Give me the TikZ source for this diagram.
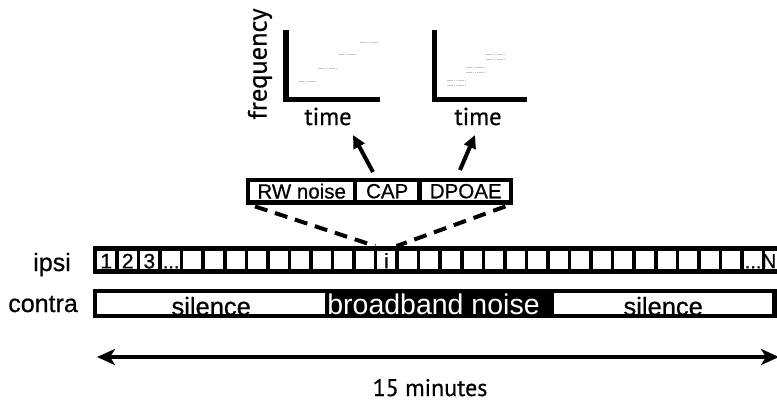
\documentclass[tikz,border=0pt]{standalone}
\usepackage{fontspec}
\setmainfont{Liberation Sans}
\newfontfamily\hv{Liberation Sans}[FakeBold=0.6]
\newfontfamily\myr{PT Sans}[FakeBold=0.5]
\usetikzlibrary{arrows.meta,calc}
\tikzset{
  fs/.style={font=\hv\fontsize{#1}{#1}\selectfont},
  ls/.style={font=\fontsize{#1}{#1}\selectfont},
  mfs/.style={font=\myr\fontsize{#1}{#1}\selectfont},
  cell/.style={fill=white, draw=none, minimum width=18pt, minimum height=18pt, inner sep=0pt, anchor=north west},
  boxc/.style={fill=white, draw=none, minimum height=18pt, inner sep=0pt, anchor=north west, fs=20.5},
  seg/.style={fill=white, draw=none, minimum height=21pt, inner sep=0pt, anchor=north west},
  axis/.style={line width=5.5pt, line join=miter},
  tiny/.style={line width=0.8pt, gray!45, dash pattern=on 1.6pt off 0.6pt},
  uparrow/.style={line width=4pt, -{Triangle[length=13pt,width=12pt]}},
  dashconn/.style={line width=4pt, dash pattern=on 13pt off 8pt},
  span/.style={line width=3.5pt, {Stealth[length=18pt,width=16pt,inset=5pt]}-{Stealth[length=18pt,width=16pt,inset=5pt]}}
}
\begin{document}
\begin{tikzpicture}[x=1pt,y=-1pt]
\useasboundingbox (0,0) rectangle (777,402);
\clip (0,0) rectangle (777,402);
\fill[white] (0,0) rectangle (777,402);

% plots
\draw[axis] (286,30) -- (286,99.5) -- (380,99.5);
\draw[axis] (434.5,30) -- (434.5,99.5) -- (527,99.5);
\draw[tiny] (360,42) -- (378,42);
\draw[tiny] (338,54) -- (357,54);
\draw[tiny] (318,68) -- (337,68);
\draw[tiny] (298,81) -- (317,81);
\draw[tiny] (486,54) -- (505,54);
\draw[tiny] (486,59) -- (505,59);
\draw[tiny] (466,67) -- (485,67);
\draw[tiny] (466,72) -- (485,72);
\draw[tiny] (447,80) -- (465,80);
\draw[tiny] (447,85) -- (465,85);
\node[mfs=26.5, rotate=90, inner sep=0pt] (freq) at (260,64) {frequency};
\node[mfs=24.5, anchor=base, inner sep=0pt] (t1) at (328,125) {time};
\node[mfs=24.5, anchor=base, inner sep=0pt] (t2) at (478,125) {time};

% measurement box
\fill (246,178) rectangle (513,205);
\node[boxc, minimum width=103pt] (rw) at (250,182) {RW noise};
\node[boxc, minimum width=60pt] (cap) at (357,182) {CAP};
\node[boxc, minimum width=87pt] (dp) at (422,182) {DPOAE};

% arrows up
\coordinate (a1) at (373,172);
\coordinate (a1t) at (353,135);
\coordinate (a2) at (460,170);
\coordinate (a2t) at (475,135);
\draw[uparrow] (a1) -- (a1t);
\draw[uparrow] (a2) -- (a2t);

% ipsi strip
\fill (93,246) rectangle (780,274);
\foreach \k in {1,...,32} {
  \node[cell] (c\k) at ({97+(\k-1)*21.55},251) {};
}
\node[fs=21, anchor=base, inner sep=0pt] at ([yshift=1pt]c1.south) {1};
\node[fs=21, anchor=base, inner sep=0pt] at ([yshift=1pt]c2.south) {2};
\node[fs=21, anchor=base, inner sep=0pt] at ([yshift=1pt]c3.south) {3};
\node[fs=20, anchor=base west, inner sep=0pt] at ([xshift=1pt,yshift=1pt]c4.south west) {...};
\node[fs=21, anchor=base, inner sep=0pt] at ([yshift=1pt]c14.south) {i};
\node[fs=20, anchor=base west, inner sep=0pt] at ([xshift=1pt,yshift=1pt]c31.south west) {...};
\node[fs=20, anchor=base east, inner sep=0pt] at (776.5,268) {N};

% dashed connectors
\draw[dashconn] ([shift={(5,6)}]rw.south west) -- ([shift={(-2,-5)}]c14.north west);
\draw[dashconn] ([shift={(-4,6)}]dp.south east) -- ([shift={(1,-5)}]c14.north east);

% contra strip
\fill (93,289) rectangle (780,318);
\node[seg, minimum width=228pt] (s1) at (97,293) {};
\node[seg, minimum width=218pt] (s2) at (554,293) {};
\node[fs=25.5, anchor=base, inner sep=0pt] at ([yshift=-1pt]s1.south) {silence};
\node[fs=25.5, anchor=base, inner sep=0pt] at ([yshift=-1pt]s2.south) {silence};
\node[ls=28.5, anchor=base, inner sep=0pt, text=white] (bb) at (433.5,314) {broadband noise};

% labels
\node[fs=25, anchor=base east, inner sep=0pt] (ipsi) at (71,271) {ipsi};
\node[fs=25, anchor=base east, inner sep=0pt] (contra) at (78,312) {contra};

% 15 minutes span
\coordinate (L) at (97,357);
\coordinate (R) at (779,357);
\draw[span] (L) -- (R);
\node[mfs=24, anchor=base, inner sep=0pt] (min) at (430,396) {15 minutes};
\end{tikzpicture}
\end{document}
